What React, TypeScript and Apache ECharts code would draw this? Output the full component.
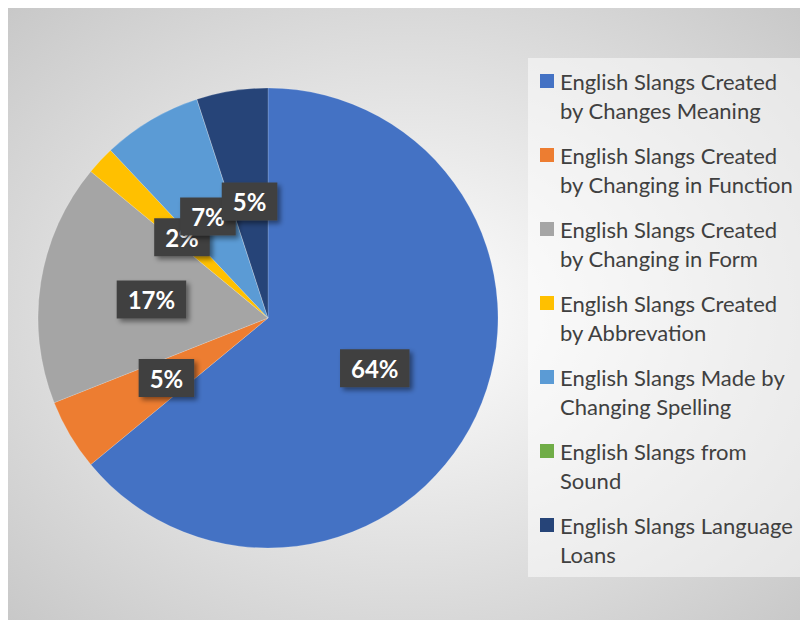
import React, { useEffect, useRef } from "react";
import * as echarts from "echarts";

const categories = [
  "English Slangs Created by Changes Meaning",
  "English Slangs Created by Changing in Function",
  "English Slangs Created by Changing in Form",
  "English Slangs Created by Abbrevation",
  "English Slangs Made by Changing Spelling",
  "English Slangs from Sound",
  "English Slangs Language Loans",
];
const legendLines = [
  ["English Slangs Created", "by Changes Meaning"],
  ["English Slangs Created", "by Changing in Function"],
  ["English Slangs Created", "by Changing in Form"],
  ["English Slangs Created", "by Abbrevation"],
  ["English Slangs Made by", "Changing Spelling"],
  ["English Slangs from", "Sound"],
  ["English Slangs Language", "Loans"],
];
const values = [64, 5, 17, 2, 7, 0, 5];
const colors = ["#4472C4", "#ED7D31", "#A5A5A5", "#FFC000", "#5B9BD5", "#70AD47", "#264478"];

export default function App() {
  const ref = useRef<HTMLDivElement>(null);
  useEffect(() => {
    if (!ref.current) return;
    const chart = echarts.init(ref.current, undefined, { renderer: "svg" });
    const legendX = 532;
    const firstY = 73;
    const step = 74;
    const lineH = 29.5;
    const legendGraphics: any[] = [
      {
        type: "rect",
        shape: { x: 520, y: 50, width: 280, height: 519 },
        style: { fill: "rgba(255,255,255,0.5)" },
        silent: true,
      },
    ];
    legendLines.forEach((lines, i) => {
      const cy = firstY + i * step;
      legendGraphics.push({
        type: "rect",
        shape: { x: legendX, y: cy - 7, width: 14, height: 14 },
        style: { fill: colors[i] },
      });
      legendGraphics.push({
        type: "text",
        x: legendX + 20,
        y: cy - lineH / 2,
        style: {
          text: lines.join("\n"),
          fill: "#404040",
          font: "22px Lato",
          lineHeight: lineH,
          verticalAlign: "top",
          align: "left",
        },
      });
    });
    chart.setOption({
      animation: false,
      backgroundColor: new echarts.graphic.RadialGradient(0.5, 0.5, 0.85, [
        { offset: 0, color: "#ffffff" },
        { offset: 1, color: "#bdbdbd" },
      ]),
      color: colors,
      graphic: legendGraphics,
      series: [
        {
          type: "pie",
          center: [260, 310],
          radius: 230,
          startAngle: 90,
          clockwise: true,
          avoidLabelOverlap: false,
          labelLayout: { hideOverlap: false },
          itemStyle: { borderColor: "rgba(255,255,255,0.35)", borderWidth: 0.5 },
          label: {
            show: true,
            position: "inside",
            formatter: (p: any) => Math.round(p.percent) + "%",
            color: "#ffffff",
            fontFamily: "Lato",
            fontWeight: "bold",
            fontSize: 24,
            lineHeight: 25,
            backgroundColor: "#404040",
            padding: [7, 11, 6, 11],
            shadowColor: "rgba(0,0,0,0.45)",
            shadowBlur: 5,
            shadowOffsetX: 3,
            shadowOffsetY: 3,
          },
          labelLine: { show: false },
          emphasis: { disabled: true },
          data: categories.map((name, i) => ({
            name,
            value: values[i],
            label: values[i] === 0 ? { show: false } : undefined,
          })),
        },
      ],
    });
    return () => chart.dispose();
  }, []);
  return <div ref={ref} style={{ width: 800, height: 612 }} />;
}
